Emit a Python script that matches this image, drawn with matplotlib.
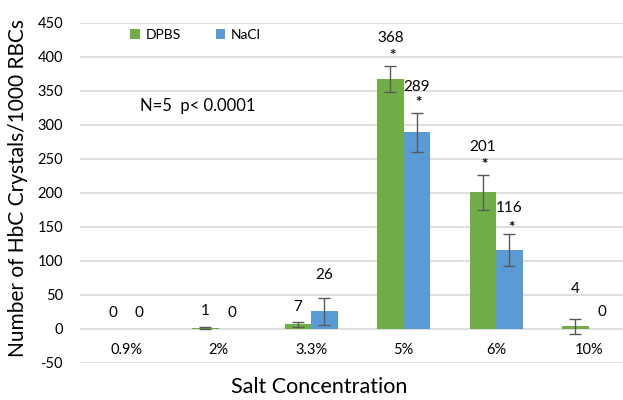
import matplotlib
matplotlib.use("Agg")
import matplotlib.pyplot as plt
import numpy as np

categories = ["0.9%", "2%", "3.3%", "5%", "6%", "10%"]
dpbs = [0, 1, 7, 368, 201, 4]
nacl = [0, 0, 26, 289, 116, 0]
dpbs_err = [0, 1.5, 4, 19, 26, 11]
nacl_err = [0, 0, 20, 29, 24, 0]
dpbs_sig = [False, False, False, True, True, False]
nacl_sig = [False, False, False, True, True, False]
# label placement (data units) as in reference
dpbs_label_y = [24, 26, 32, 428, 268, 59]
nacl_label_y = [24, 24, 79, 356, 178, 25]
dpbs_star_y = [None, None, None, 402, 241, None]
nacl_star_y = [None, None, None, 333, 149, None]
yticks = list(range(-50, 451, 50))

plt.rcParams['font.family'] = ['Lato', 'DejaVu Sans']

green = "#70AD47"
blue = "#5B9BD5"
errc = "#595959"

fig = plt.figure(figsize=(6.23, 4.0), dpi=100)
ax = fig.add_axes([0.128, 0.0925, 0.872, 0.85])

x = np.arange(len(categories))
bw = 0.287
ax.bar(x - bw/2, dpbs, bw, color=green, label="DPBS", zorder=3)
ax.bar(x + bw/2, nacl, bw, color=blue, label="NaCl", zorder=3)
for xi, v, e in zip(x - bw/2, dpbs, dpbs_err):
    if e > 0:
        ax.errorbar(xi, v, yerr=e, fmt='none', ecolor=errc, elinewidth=1.0, capsize=4, capthick=1.0, zorder=4)
for xi, v, e in zip(x + bw/2, nacl, nacl_err):
    if e > 0:
        ax.errorbar(xi, v, yerr=e, fmt='none', ecolor=errc, elinewidth=1.0, capsize=4, capthick=1.0, zorder=4)

for i in range(len(categories)):
    ax.text(x[i] - bw/2, dpbs_label_y[i], str(dpbs[i]), ha='center', va='center', fontsize=11, zorder=5)
    ax.text(x[i] + bw/2, nacl_label_y[i], str(nacl[i]), ha='center', va='center', fontsize=11, zorder=5)
    if dpbs_sig[i]:
        ax.text(x[i] - bw/2 + 0.02, dpbs_star_y[i], "*", ha='center', va='center', fontsize=11, fontweight='bold', zorder=5)
    if nacl_sig[i]:
        ax.text(x[i] + bw/2 + 0.02, nacl_star_y[i], "*", ha='center', va='center', fontsize=11, fontweight='bold', zorder=5)
    ax.text(x[i], -31, categories[i], ha='center', va='center', fontsize=10.5)

ax.set_xlim(-0.5, 5.37)
ax.set_ylim(-50, 450)
ax.set_yticks(yticks)
ax.set_yticklabels([str(t) for t in yticks], fontsize=10.5)
ax.set_xticks([])
ax.tick_params(axis='y', length=0, pad=12)
ax.yaxis.grid(True, color="#D9D9D9", linewidth=1.2, zorder=0)
ax.set_axisbelow(True)
for s in ax.spines.values():
    s.set_visible(False)

fig.text(0.029, 0.53, "Number of HbC Crystals/1000 RBCs", rotation=90, ha='center', va='center', fontsize=15)
fig.text(0.512, 0.032, "Salt Concentration", ha='center', va='center', fontsize=15.5)

ax.legend(loc='upper left', bbox_to_anchor=(0.07, 1.02), ncol=2, frameon=False,
          fontsize=10, handlelength=0.7, handleheight=0.7, columnspacing=2.5, handletextpad=0.4)
ax.text(0.11, 0.755, "N=5  p< 0.0001", transform=ax.transAxes, fontsize=12, ha='left', va='center')

fig.savefig("out.png", dpi=100)
